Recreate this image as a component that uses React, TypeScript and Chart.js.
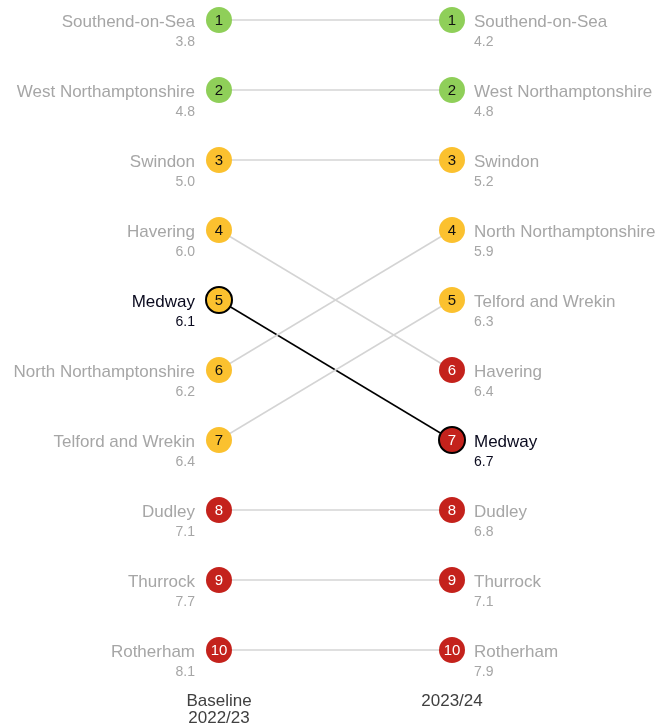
import { useEffect, useRef } from 'react';
import { Chart, registerables } from 'chart.js';

Chart.register(...registerables);

const regions = [
  'Southend-on-Sea',
  'West Northamptonshire',
  'Swindon',
  'Havering',
  'Medway',
  'North Northamptonshire',
  'Telford and Wrekin',
  'Dudley',
  'Thurrock',
  'Rotherham',
];
const baselineRank = [1, 2, 3, 4, 5, 6, 7, 8, 9, 10];
const currentRank = [1, 2, 3, 6, 7, 4, 5, 8, 9, 10];
const baselineValue = [3.8, 4.8, 5.0, 6.0, 6.1, 6.2, 6.4, 7.1, 7.7, 8.1];
const currentValue = [4.2, 4.8, 5.2, 6.4, 6.7, 5.9, 6.3, 6.8, 7.1, 7.9];
// performance band per region: 'g' good, 'a' middle, 'r' poor
const baselineBand = ['g', 'g', 'a', 'a', 'a', 'a', 'a', 'r', 'r', 'r'];
const currentBand = ['g', 'g', 'a', 'r', 'r', 'a', 'a', 'r', 'r', 'r'];
const periodLabels: (string | string[])[] = [['Baseline', '2022/23'], '2023/24'];
const highlight = 'Medway';

const BAND_COLORS: Record<string, string> = { g: '#8fcf59', a: '#fbc12f', r: '#c4221c' };
const FONT = '"Liberation Sans", Arial, sans-serif';

export default function App() {
  const ref = useRef<HTMLCanvasElement | null>(null);

  useEffect(() => {
    document.body.style.margin = '0';
    const canvas = ref.current;
    if (!canvas) return;

    const order = regions
      .map((_, i) => i)
      .sort((a, b) => (regions[a] === highlight ? 1 : 0) - (regions[b] === highlight ? 1 : 0));

    const datasets = order.map((i) => {
      const hl = regions[i] === highlight;
      return {
        label: regions[i],
        data: [
          { x: 0, y: baselineRank[i] },
          { x: 1, y: currentRank[i] },
        ],
        borderColor: hl ? '#000000' : '#d4d4d4',
        borderWidth: 1.5,
        pointRadius: 13,
        pointHoverRadius: 13,
        pointBackgroundColor: [BAND_COLORS[baselineBand[i]], BAND_COLORS[currentBand[i]]],
        pointBorderColor: hl ? '#000000' : 'rgba(0,0,0,0)',
        pointBorderWidth: hl ? 2 : 0,
        clip: false as any,
        regionIndex: i,
      };
    });

    const labelPlugin = {
      id: 'slopeLabels',
      afterDatasetsDraw(chart: any) {
        const ctx = chart.ctx;
        ctx.save();
        chart.data.datasets.forEach((ds: any, di: number) => {
          const i = ds.regionIndex;
          const meta = chart.getDatasetMeta(di);
          const hl = regions[i] === highlight;
          const txtColor = hl ? '#0a0a1e' : '#a6a6a6';
          const pts = meta.data;
          const ranks = [baselineRank[i], currentRank[i]];
          const vals = [baselineValue[i], currentValue[i]];
          const bands = [baselineBand[i], currentBand[i]];
          pts.forEach((p: any, k: number) => {
            ctx.font = `15px ${FONT}`;
            ctx.textAlign = 'center';
            ctx.textBaseline = 'middle';
            ctx.fillStyle = bands[k] === 'r' ? '#ffffff' : '#111111';
            ctx.fillText(String(ranks[k]), p.x, p.y + 1);
            ctx.fillStyle = txtColor;
            const tx = k === 0 ? p.x - 24 : p.x + 22;
            ctx.textAlign = k === 0 ? 'right' : 'left';
            ctx.font = `17px ${FONT}`;
            ctx.fillText(regions[i], tx, p.y + 2);
            ctx.font = `14px ${FONT}`;
            ctx.fillText(vals[k].toFixed(1), tx, p.y + 22);
          });
        });
        ctx.restore();
      },
    };

    const chart = new Chart(canvas, {
      type: 'line',
      data: { datasets: datasets as any },
      options: {
        animation: false,
        responsive: true,
        maintainAspectRatio: false,
        events: [],
        layout: { padding: { left: 219, right: 205, top: 20, bottom: 0 } },
        plugins: {
          legend: { display: false },
          tooltip: { enabled: false },
        },
        scales: {
          x: {
            type: 'linear',
            min: 0,
            max: 1,
            afterBuildTicks: (axis: any) => {
              axis.ticks = [{ value: 0 }, { value: 1 }];
            },
            afterFit: (axis: any) => {
              axis.height = 78;
            },
            ticks: {
              callback: (v: any) => periodLabels[Number(v)],
              font: { size: 17, family: FONT, lineHeight: 1.05 },
              color: '#404040',
              padding: 34,
              maxRotation: 0,
              autoSkip: false,
            },
            grid: { display: false },
            border: { display: false },
          },
          y: {
            type: 'linear',
            reverse: true,
            min: 1,
            max: 10,
            display: false,
          },
        },
      },
      plugins: [labelPlugin],
    });

    return () => chart.destroy();
  }, []);

  return (
    <div style={{ width: 657, height: 728, position: 'relative' }}>
      <canvas ref={ref} />
    </div>
  );
}
